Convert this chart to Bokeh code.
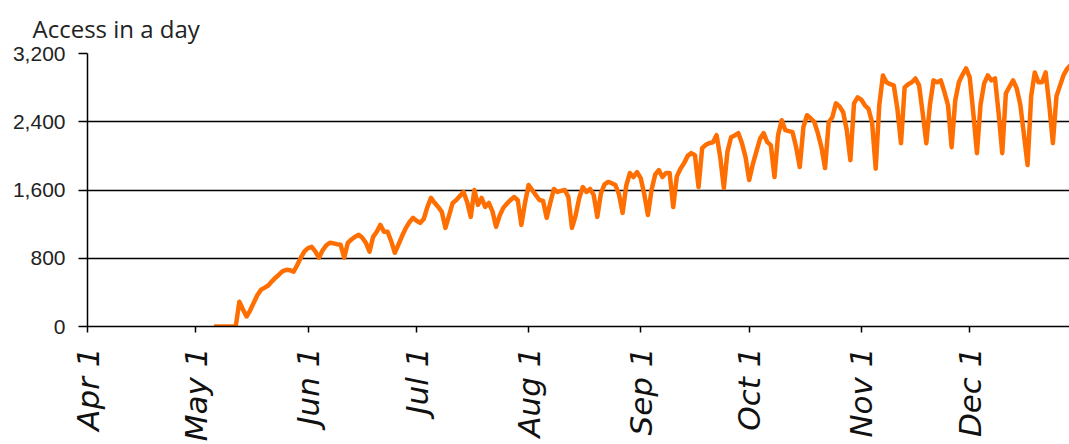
import math
from datetime import date
from bokeh.plotting import figure
from bokeh.models import Range1d, FixedTicker, NumeralTickFormatter
from bokeh.embed import file_html
from bokeh.resources import INLINE

# ---------------- data ----------------
year = 2009
axis_start = date(year, 4, 1)
first_day = date(year, 5, 6)
tick_dates = [date(year, m, 1) for m in range(4, 13)]
tick_labels = ["Apr 1", "May 1", "Jun 1", "Jul 1", "Aug 1", "Sep 1", "Oct 1", "Nov 1", "Dec 1"]
y_ticks = [0, 800, 1600, 2400, 3200]
y_title = "Access in a day"

access = [
    0, 0, 0, 0, 0, 0, 0,
    290, 200, 117, 190, 280, 370, 432, 455, 480, 530, 572, 610, 650, 665, 660, 642,
    720, 806, 880, 920, 934, 880, 806, 890, 950, 981, 975, 965, 958, 806,
    981, 1020, 1050, 1075, 1040, 980, 876, 1051, 1110, 1191, 1110, 1110, 1000, 864,
    960, 1060, 1150, 1220, 1273, 1240, 1215, 1260, 1400, 1507, 1450, 1402, 1343, 1156,
    1300, 1448, 1483, 1530, 1577, 1460, 1285, 1600, 1425, 1507, 1402, 1448, 1350, 1168,
    1300, 1390, 1440, 1483, 1518, 1480, 1191, 1450, 1659, 1600, 1540, 1483, 1472, 1273,
    1450, 1612, 1577, 1590, 1600, 1518, 1156, 1300, 1507, 1635, 1577, 1612, 1542, 1285,
    1560, 1665, 1694, 1680, 1659, 1550, 1332, 1650, 1799, 1752, 1810, 1740, 1550, 1308,
    1600, 1780, 1834, 1752, 1800, 1799, 1402, 1760, 1850, 1915, 2000, 2032, 2009, 1635,
    2090, 2130, 2149, 2160, 2243, 1986, 1624, 2050, 2219, 2240, 2266, 2150, 1986, 1717,
    1900, 2050, 2200, 2266, 2161, 2126, 1752, 2243, 2418, 2301, 2290, 2278, 2100, 1869,
    2336, 2476, 2441, 2400, 2266, 2100, 1857, 2394, 2453, 2616, 2580, 2511, 2300, 1950,
    2616, 2686, 2660, 2593, 2550, 2394, 1850, 2600, 2943, 2862, 2840, 2826, 2550, 2149,
    2803, 2840, 2862, 2908, 2826, 2500, 2149, 2600, 2885, 2862, 2885, 2750, 2593, 2102,
    2650, 2862, 2950, 3025, 2920, 2500, 2032, 2600, 2850, 2943, 2885, 2908, 2500, 2032,
    2733, 2810, 2885, 2791, 2600, 2250, 1892, 2700, 2978, 2862, 2862, 2978, 2600, 2149,
    2700, 2826, 2950, 3025, 3070,
]

# ---------------- derived ----------------
day0 = (first_day - axis_start).days
xs = [day0 + i for i in range(len(access))]
tick_pos = [(d - axis_start).days for d in tick_dates]

p = figure(
    width=1069, height=444,
    output_backend="svg", toolbar_location=None,
    x_range=Range1d(0, 271.6), y_range=Range1d(0, 3200),
    min_border_left=87, min_border_right=0,
    min_border_top=52, min_border_bottom=117,
    background_fill_color="white", border_fill_color="white",
)
p.outline_line_color = None

p.line(xs, access, line_color="#FF6E00", line_width=4.5, line_join="round")

# title (y-value caption at top-left)
p.title.text = y_title
p.title.align = "left"
p.title.offset = -55
p.title.standoff = 18
p.title.text_font = "Open Sans"
p.title.text_font_size = "24px"
p.title.text_font_style = "normal"
p.title.text_color = "#222222"

# grid
p.xgrid.visible = False
p.ygrid.ticker = FixedTicker(ticks=y_ticks)
p.ygrid.grid_line_color = "black"
p.ygrid.grid_line_width = 1.5

# y axis
ya = p.yaxis[0]
ya.ticker = FixedTicker(ticks=y_ticks)
ya.formatter = NumeralTickFormatter(format="0,0")
ya.axis_line_color = "black"
ya.axis_line_width = 1.5
ya.major_tick_line_color = "black"
ya.major_tick_line_width = 1.5
ya.major_tick_out = 9
ya.major_tick_in = 0
ya.minor_tick_line_color = None
ya.major_label_standoff = 13
ya.major_label_text_font = "Liberation Sans"
ya.major_label_text_font_size = "21px"
ya.major_label_text_color = "#222222"

# x axis
xa = p.xaxis[0]
xa.ticker = FixedTicker(ticks=tick_pos)
xa.major_label_overrides = {t: lab for t, lab in zip(tick_pos, tick_labels)}
xa.major_label_orientation = math.pi / 2
xa.axis_line_color = "black"
xa.axis_line_width = 1.5
xa.major_tick_line_color = "black"
xa.major_tick_line_width = 1.5
xa.major_tick_out = 6
xa.major_tick_in = 0
xa.minor_tick_line_color = None
xa.major_label_standoff = 15
xa.major_label_text_font = "DejaVu Sans"
xa.major_label_text_font_style = "italic"
xa.major_label_text_font_size = "31px"
xa.major_label_text_color = "#111111"

open("out.html", "w").write(file_html(p, INLINE))
